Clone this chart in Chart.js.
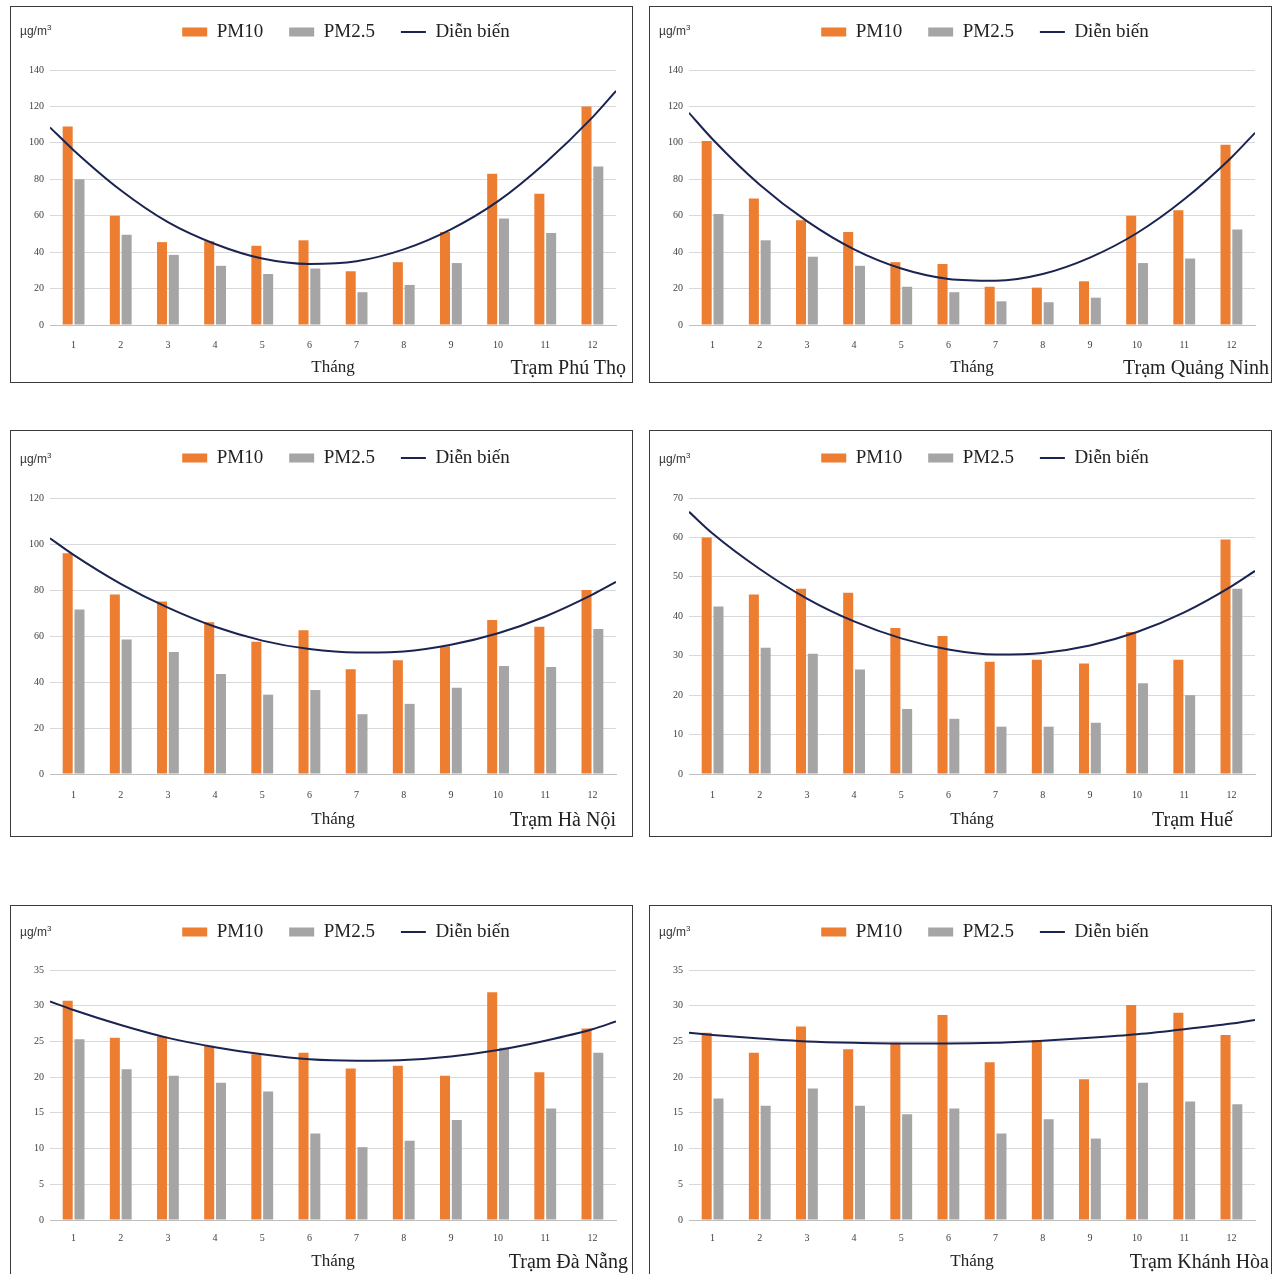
<!DOCTYPE html>
<html lang="vi">
<head>
<meta charset="utf-8">
<title>Diễn biến PM10, PM2.5 theo tháng</title>
<script src="https://cdn.jsdelivr.net/npm/chart.js@4.4.1/dist/chart.umd.min.js"></script>
<style>
  html, body { margin: 0; padding: 0; background: #fff; overflow: hidden; width: 1273px; height: 1274px; }
  .panel { position: absolute; border: 1px solid #3a3a3a; background: #fff; overflow: hidden; }
  .panel canvas { position: absolute; left: 0; top: 0; }
  .unit { position: absolute; left: 9px; font: 12px "Liberation Sans", Arial, sans-serif; color: #333; }
  .unit sup { font-size: 8px; }
  .station { position: absolute; font: 20px "Liberation Serif", "Times New Roman", serif; color: #222; white-space: nowrap; }
</style>
</head>
<body>
<script>
// Tháng
const months = [1, 2, 3, 4, 5, 6, 7, 8, 9, 10, 11, 12];
// vị trí các điểm đọc trên đường xu hướng (mép trái, từng tháng, mép phải)
const trendX = [0.5, 1, 2, 3, 4, 5, 6, 7, 8, 9, 10, 11, 12, 12.5];

const stationNames = ['Trạm Phú Thọ', 'Trạm Quảng Ninh', 'Trạm Hà Nội', 'Trạm Huế', 'Trạm Đà Nẵng', 'Trạm Khánh Hòa'];
const yMax = [140, 140, 120, 70, 35, 35];
const yStep = [20, 20, 20, 10, 5, 5];

// Phú Thọ
const pm10PhuTho = [109, 60, 45.5, 46, 43.5, 46.5, 29.5, 34.5, 51, 83, 72, 120];
const pm25PhuTho = [80, 49.5, 38.5, 32.5, 28, 31, 18, 22, 34, 58.5, 50.5, 87];
const trendPhuTho = [108.5, 96, 74, 56.5, 44.5, 36.5, 33.5, 35, 41.5, 52.5, 68, 89, 114, 128.5];

// Quảng Ninh
const pm10QuangNinh = [101, 69.5, 57.5, 51, 34.5, 33.5, 21, 20.5, 24, 60, 63, 99];
const pm25QuangNinh = [61, 46.5, 37.5, 32.5, 21, 18, 13, 12.5, 15, 34, 36.5, 52.5];
const trendQuangNinh = [116.5, 102, 77, 57, 41.5, 31, 25.3, 24.3, 28, 37, 50.5, 69, 92, 105.5];

// Hà Nội
const pm10HaNoi = [96, 78, 75, 66, 57.5, 62.5, 45.5, 49.5, 55.5, 67, 64, 80];
const pm25HaNoi = [71.5, 58.5, 53, 43.5, 34.5, 36.5, 26, 30.5, 37.5, 47, 46.5, 63];
const trendHaNoi = [102.5, 95.3, 82.7, 72.3, 64, 58, 54.3, 52.8, 53.3, 56.2, 61.2, 68.5, 78, 83.5];

// Huế
const pm10Hue = [60, 45.5, 47, 46, 37, 35, 28.5, 29, 28, 36, 29, 59.5];
const pm25Hue = [42.5, 32, 30.5, 26.5, 16.5, 14, 12, 12, 13, 23, 20, 47];
const trendHue = [66.5, 61, 52, 44.5, 38.7, 34.4, 31.6, 30.3, 30.7, 32.6, 36, 41, 47.6, 51.5];

// Đà Nẵng
const pm10DaNang = [30.7, 25.5, 25.7, 24.4, 23.2, 23.4, 21.2, 21.6, 20.2, 31.9, 20.7, 26.8];
const pm25DaNang = [25.3, 21.1, 20.2, 19.2, 18, 12.1, 10.2, 11.1, 14, 24.1, 15.6, 23.4];
const trendDaNang = [30.6, 29.4, 27.3, 25.5, 24.2, 23.2, 22.5, 22.3, 22.4, 22.9, 23.8, 25.1, 26.7, 27.8];

// Khánh Hòa
const pm10KhanhHoa = [26.2, 23.4, 27.1, 23.9, 24.8, 28.7, 22.1, 25.2, 19.7, 30.1, 29, 25.9];
const pm25KhanhHoa = [17, 16, 18.4, 16, 14.8, 15.6, 12.1, 14.1, 11.4, 19.2, 16.6, 16.2];
const trendKhanhHoa = [26.2, 25.9, 25.4, 25, 24.8, 24.7, 24.7, 24.8, 25.1, 25.5, 26, 26.7, 27.5, 28];

const pm10 = [pm10PhuTho, pm10QuangNinh, pm10HaNoi, pm10Hue, pm10DaNang, pm10KhanhHoa];
const pm25 = [pm25PhuTho, pm25QuangNinh, pm25HaNoi, pm25Hue, pm25DaNang, pm25KhanhHoa];
const trend = [trendPhuTho, trendQuangNinh, trendHaNoi, trendHue, trendDaNang, trendKhanhHoa];

// bố cục từng khung (px)
const boxes = [
  { left: 10,  top: 6,   h: 377, plotTop: 63, plotBottom: 318, legendY: 25, tickGap: 20, titleY: 361, unitTop: 16, stationRight: 6 },
  { left: 649, top: 6,   h: 377, plotTop: 63, plotBottom: 318, legendY: 25, tickGap: 20, titleY: 361, unitTop: 16, stationRight: 2 },
  { left: 10,  top: 430, h: 407, plotTop: 67, plotBottom: 343, legendY: 27, tickGap: 21, titleY: 389, unitTop: 20, stationRight: 16 },
  { left: 649, top: 430, h: 407, plotTop: 67, plotBottom: 343, legendY: 27, tickGap: 21, titleY: 389, unitTop: 20, stationRight: 38 },
  { left: 10,  top: 905, h: 372, plotTop: 64, plotBottom: 314, legendY: 26, tickGap: 18, titleY: 356, unitTop: 18, stationRight: 4 },
  { left: 649, top: 905, h: 372, plotTop: 64, plotBottom: 314, legendY: 26, tickGap: 18, titleY: 356, unitTop: 18, stationRight: 2 }
];

const W = 623;
const serif = 'Liberation Serif';
const legendPad = 26;
const legendFont = 19;
const legendShift = 13;

stationNames.forEach((name, i) => {
  const b = boxes[i];
  const innerW = W - 2, innerH = b.h - 2;

  const div = document.createElement('div');
  div.className = 'panel';
  div.style.left = b.left + 'px';
  div.style.top = b.top + 'px';
  div.style.width = innerW + 'px';
  div.style.height = innerH + 'px';

  const canvas = document.createElement('canvas');
  canvas.width = innerW;
  canvas.height = innerH;
  div.appendChild(canvas);

  const unit = document.createElement('div');
  unit.className = 'unit';
  unit.style.top = b.unitTop + 'px';
  unit.innerHTML = 'µg/m<sup>3</sup>';
  div.appendChild(unit);

  const st = document.createElement('div');
  st.className = 'station';
  st.style.right = b.stationRight + 'px';
  st.style.top = (b.titleY - 12) + 'px';
  st.textContent = name;
  div.appendChild(st);

  document.body.appendChild(div);

  const padTop = b.legendY - legendPad - legendFont / 2;
  const legendH = b.plotTop - padTop;

  // giữ chiều cao chú giải cố định để vùng vẽ nằm đúng chỗ
  const fixLegend = {
    id: 'fixLegend',
    afterInit(chart) {
      const lg = chart.legend;
      const fit = lg.fit;
      lg.fit = function () { fit.call(this); this.height = legendH; };
    },
    afterLayout(chart) {
      chart.legend.left += legendShift;
      chart.legend.right += legendShift;
    }
  };

  new Chart(canvas, {
    type: 'bar',
    data: {
      datasets: [
        {
          label: 'PM10',
          data: months.map((m, j) => ({ x: m, y: pm10[i][j] })),
          backgroundColor: '#ED7D31',
          pointStyle: 'rect',
          categoryPercentage: 0.5,
          barPercentage: 0.85
        },
        {
          label: 'PM2.5',
          data: months.map((m, j) => ({ x: m, y: pm25[i][j] })),
          backgroundColor: '#A5A5A5',
          pointStyle: 'rect',
          categoryPercentage: 0.5,
          barPercentage: 0.85
        },
        {
          type: 'line',
          label: 'Diễn biến',
          data: trendX.map((x, j) => ({ x: x, y: trend[i][j] })),
          borderColor: '#1b2450',
          backgroundColor: '#1b2450',
          borderWidth: 2,
          pointRadius: 0,
          pointStyle: 'line',
          cubicInterpolationMode: 'monotone',
          order: -1
        }
      ]
    },
    options: {
      responsive: false,
      animation: false,
      layout: { padding: { top: padTop, left: 0, right: 16, bottom: 0 } },
      plugins: {
        tooltip: { enabled: false },
        legend: {
          position: 'top',
          fullSize: false,
          labels: {
            usePointStyle: true,
            pointStyleWidth: 25,
            boxWidth: 25,
            boxHeight: 9,
            padding: legendPad,
            color: '#222',
            font: { family: serif, size: legendFont },
            sort: (a, c) => a.datasetIndex - c.datasetIndex
          }
        }
      },
      scales: {
        x: {
          type: 'linear',
          min: 0.5,
          max: 12.5,
          offset: false,
          afterBuildTicks(scale) {
            scale.ticks = months.map(m => ({ value: m }));
          },
          grid: { display: false, drawTicks: false },
          border: { display: true, color: '#bfbfbf' },
          ticks: { color: '#404040', font: { family: serif, size: 10 }, padding: b.tickGap - 6 },
          title: {
            display: true,
            text: 'Tháng',
            color: '#222',
            font: { family: serif, size: 17 },
            padding: { top: 0, bottom: innerH - b.titleY - 10 }
          },
          afterFit(scale) { scale.height = innerH - b.plotBottom; }
        },
        y: {
          min: 0,
          max: yMax[i],
          ticks: { stepSize: yStep[i], color: '#404040', font: { family: serif, size: 10 }, padding: 6 },
          grid: { color: '#d9d9d9', drawTicks: false },
          border: { display: false },
          afterFit(scale) { scale.width = 39; }
        }
      }
    },
    plugins: [fixLegend]
  });
});
</script>
</body>
</html>
